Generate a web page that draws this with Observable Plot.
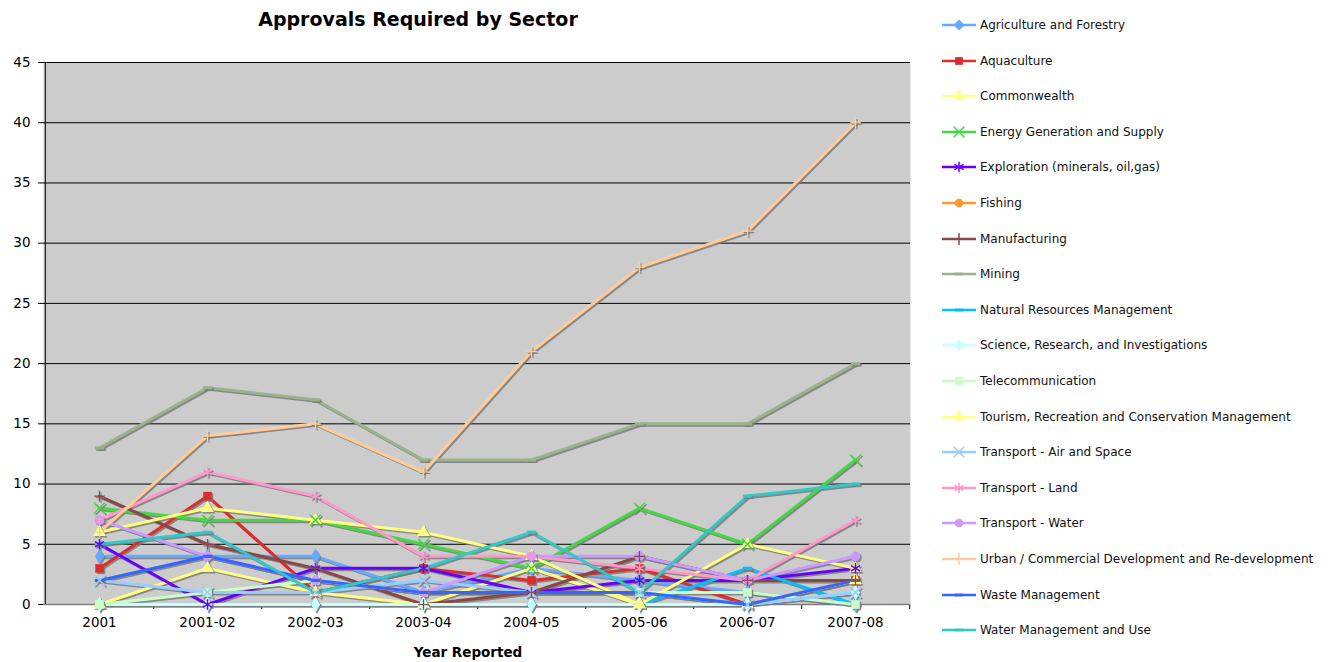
<!DOCTYPE html>
<html><head><meta charset="utf-8">
<script src="https://cdn.jsdelivr.net/npm/d3@7"></script>
<script src="https://cdn.jsdelivr.net/npm/@observablehq/plot@0.6"></script>
<style>
body{margin:0;background:#fff;font-family:"DejaVu Sans",Verdana,sans-serif;color:#000}
#wrap{position:relative;width:1332px;height:662px;overflow:hidden}
#title{position:absolute;left:0;top:8px;width:836px;text-align:center;font-weight:bold;font-size:19px}
#chart{position:absolute;left:0;top:40px}
#xlabel{position:absolute;left:0;width:936px;top:644px;text-align:center;font-weight:bold;font-size:13.5px}
#legend{position:absolute;left:940px;top:0;width:392px;height:662px}
.row{position:absolute;left:0;height:16px;display:flex;align-items:center;font-size:12px;white-space:nowrap;color:#111}
.row svg{margin-right:2px}
</style></head>
<body>
<div id="wrap">
  <div id="title">Approvals Required by Sector</div>
  <div id="chart"></div>
  <div id="xlabel">Year Reported</div>
  <div id="legend"></div>
</div>
<script>
const years = ["2001","2001-02","2002-03","2003-04","2004-05","2005-06","2006-07","2007-08"];
const sectors = [
  "Agriculture and Forestry","Aquaculture","Commonwealth","Energy Generation and Supply",
  "Exploration (minerals, oil,gas)","Fishing","Manufacturing","Mining",
  "Natural Resources Management","Science, Research, and Investigations","Telecommunication",
  "Tourism, Recreation and Conservation Management","Transport - Air and Space","Transport - Land",
  "Transport - Water","Urban / Commercial Development and Re-development","Waste Management",
  "Water Management and Use"
];
const agriculture       = [4, 4, 4, 1, 3, 2, 1, 0];
const aquaculture       = [3, 9, 1, 3, 2, 3, 0, 2];
const commonwealth      = [0, 3, 1, 0, 3, 0, 0, 2];
const energy            = [8, 7, 7, 5, 3, 8, 5, 12];
const exploration       = [5, 0, 3, 3, 1, 2, 2, 3];
const fishing           = [null, null, null, null, null, null, null, null];
const manufacturing     = [9, 5, 3, 0, 1, 4, 2, 2];
const mining            = [13, 18, 17, 12, 12, 15, 15, 20];
const naturalResources  = [0, 0, 0, 0, 0, 0, 3, 0];
const science           = [0, 0, 0, 0, 0, 0, 0, 1];
const telecommunication = [0, 1, 2, 1, 1, 1, 1, 0];
const tourism           = [6, 8, 7, 6, 4, 0, 5, 3];
const transportAir      = [2, 1, 1, 2, 1, 1, 0, 1];
const transportLand     = [7, 11, 9, 4, 4, 3, 2, 7];
const transportWater    = [7, 4, 2, 1, 4, 4, 2, 4];
const urban             = [6, 14, 15, 11, 21, 28, 31, 40];
const waste             = [2, 4, 2, 1, 1, 1, 0, 2];
const waterManagement   = [5, 6, 1, 3, 6, 1, 9, 10];
const yTicks = [0, 5, 10, 15, 20, 25, 30, 35, 40, 45];

const seriesValues = [agriculture, aquaculture, commonwealth, energy, exploration, fishing,
  manufacturing, mining, naturalResources, science, telecommunication, tourism, transportAir,
  transportLand, transportWater, urban, waste, waterManagement];

const colors = ["#66AAFF","#DD2C2C","#FFFF88","#44D844","#6600FF","#FF9933","#884848","#9BB38A",
  "#00C0FF","#C8FFFF","#C8FFC8","#FFFF80","#99CCFF","#FF99CC","#CC99FF","#FFCC99","#3366FF","#33C8C8"];

const dash = {draw(ctx, size){ const w = Math.sqrt(size)*1.1, h = Math.max(2, w/3); ctx.rect(-w/2, -h/2, w, h); }};
const markerNames = ["diamond","square","triangle","times","asterisk","circle","plus","dash",
  "dash","diamond","square","triangle","times","asterisk","circle","plus","dash","dash"];
const strokeMarkers = new Set(["times","asterisk","plus"]);
const symbolFor = n => n === "dash" ? dash : n;

const data = [];
sectors.forEach((s, i) => seriesValues[i].forEach((v, j) => data.push({sector: s, year: years[j], value: v, idx: i})));
const valid = data.filter(d => d.value != null);
const filled = valid.filter(d => !strokeMarkers.has(markerNames[d.idx]));
const stroked = valid.filter(d => strokeMarkers.has(markerNames[d.idx]) && markerNames[d.idx] !== "plus");
const plusses = valid.filter(d => markerNames[d.idx] === "plus");

const W = 920, H = 622, mL = 43, mR = 10, mT = 22, mB = 58;
const step = (W - mL - mR) / years.length;

const chart = Plot.plot({
  width: W, height: H, marginLeft: mL, marginRight: mR, marginTop: mT, marginBottom: mB,
  style: {fontFamily: "DejaVu Sans, Verdana, sans-serif", fontSize: "13px", color: "#000", background: "transparent", overflow: "visible"},
  x: {type: "point", domain: years, padding: 0.5, label: null},
  y: {domain: [0, 45], label: null},
  color: {domain: sectors, range: colors},
  symbol: {domain: sectors, range: markerNames.map(symbolFor)},
  marks: [
    Plot.frame({fill: "#CCCCCC", stroke: null}),
    Plot.gridY(yTicks, {stroke: "#000", strokeOpacity: 1, strokeWidth: 1}),
    Plot.axisY(yTicks, {tickSize: 5, tickPadding: 8, fontSize: 13.5, label: null, stroke: "#000"}),
    Plot.axisX({tickSize: 0, tickPadding: 13, fontSize: 13.5, label: null}),
    Plot.axisX({tickSize: 5, tickFormat: () => "", dx: step / 2, label: null, stroke: "#000"}),
    Plot.ruleY([0], {stroke: "#808080", strokeWidth: 1.5}),
    Plot.ruleX([years[0]], {dx: -step / 2, stroke: "#000"}),
    Plot.line(valid, {x: "year", y: "value", z: "sector", stroke: "#7a7a7a", strokeOpacity: 0.85, strokeWidth: 3, dx: 1.5, dy: 1.5}),
    Plot.line(valid, {x: "year", y: "value", z: "sector", stroke: "sector", strokeWidth: 3}),
    Plot.dot(filled, {x: "year", y: "value", symbol: "sector", fill: "#7a7a7a", fillOpacity: 0.85, r: 4.8, dx: 1.5, dy: 1.5}),
    Plot.dot(stroked, {x: "year", y: "value", symbol: "sector", stroke: "#7a7a7a", strokeOpacity: 0.85, strokeWidth: 1.5, r: 5, dx: 1.5, dy: 1.5}),
    Plot.dot(plusses, {x: "year", y: "value", symbol: "sector", stroke: "#7a7a7a", strokeOpacity: 0.85, strokeWidth: 1.2, r: 3.5, dx: 1.5, dy: 1.5}),
    Plot.dot(filled, {x: "year", y: "value", symbol: "sector", fill: "sector", r: 4.8}),
    Plot.dot(stroked, {x: "year", y: "value", symbol: "sector", stroke: "sector", strokeWidth: 1.5, r: 5}),
    Plot.dot(plusses, {x: "year", y: "value", symbol: "sector", stroke: "sector", strokeWidth: 1.2, r: 3.5})
  ]
});
document.getElementById("chart").appendChild(chart);

// Legend
const legend = d3.select("#legend");
const d3sym = {diamond: d3.symbolDiamond2, square: d3.symbolSquare, triangle: d3.symbolTriangle, times: d3.symbolTimes,
  asterisk: d3.symbolAsterisk, circle: d3.symbolCircle, plus: d3.symbolPlus, dash: dash};
sectors.forEach((s, i) => {
  const row = legend.append("div").attr("class", "row").style("top", (25 + i * 35.6 - 8) + "px");
  const svg = row.append("svg").attr("width", 38).attr("height", 16);
  svg.append("line").attr("x1", 2).attr("x2", 36).attr("y1", 8).attr("y2", 8).attr("stroke", colors[i]).attr("stroke-width", 2.5);
  const m = markerNames[i];
  const isStroke = strokeMarkers.has(m);
  const size = m === "plus" ? 50 : isStroke ? 80 : 60;
  const p = svg.append("path").attr("transform", "translate(19,8)")
    .attr("d", d3.symbol(d3sym[m], m === "diamond" ? 80 : size)());
  if (isStroke) p.attr("fill", "none").attr("stroke", colors[i]).attr("stroke-width", 1.5);
  else p.attr("fill", colors[i]);
  row.append("span").text(s);
});
</script>
</body></html>
